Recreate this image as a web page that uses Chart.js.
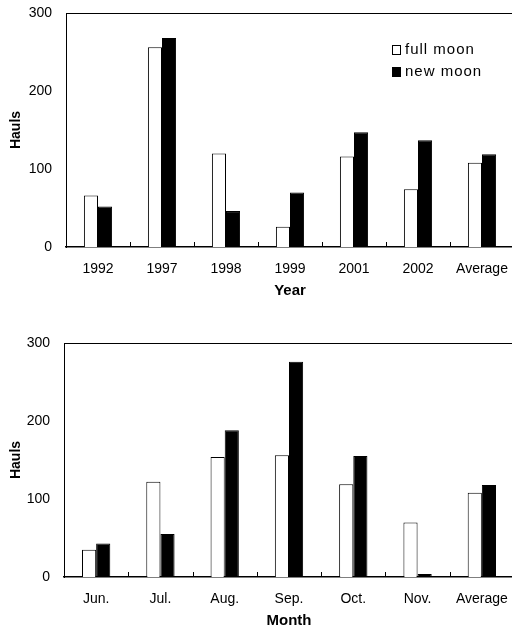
<!DOCTYPE html>
<html>
<head>
<meta charset="utf-8">
<script src="https://cdn.jsdelivr.net/npm/chart.js@4/dist/chart.umd.min.js"></script>
<style>
  html, body { margin: 0; padding: 0; width: 512px; height: 628px; overflow: hidden; background: #fff; }
  .wrap { position: absolute; width: 520px; height: 300px; }
  #w1 { left: 0; top: 0; }
  #w2 { left: 0; top: 330px; }
</style>
</head>
<body>
<div class="wrap" id="w1"><canvas id="c1" width="520" height="300"></canvas></div>
<div class="wrap" id="w2"><canvas id="c2" width="520" height="300"></canvas></div>
<script>
// ---- data ----
const seriesLabels = ['full moon', 'new moon'];
const yearCategories = ['1992', '1997', '1998', '1999', '2001', '2002', 'Average'];
const yearFullMoon = [66, 256, 120, 26, 116, 74, 108];
const yearNewMoon = [52, 268, 46, 70, 147, 137, 119];
const monthCategories = ['Jun.', 'Jul.', 'Aug.', 'Sep.', 'Oct.', 'Nov.', 'Average'];
const monthFullMoon = [35, 122, 154, 156, 119, 70, 108];
const monthNewMoon = [43, 55, 188, 276, 155, 4, 118];
const yTicks = [0, 100, 200, 300];

const FONT = '"Liberation Sans", Arial, sans-serif';

const framePlugin = {
  id: 'frame',
  afterDatasetsDraw(chart) {
    const ctx = chart.ctx, a = chart.chartArea, xs = chart.scales.x;
    ctx.save();
    ctx.strokeStyle = '#000';
    ctx.lineWidth = 1;
    ctx.beginPath();
    ctx.moveTo(a.left, a.top + 0.5); ctx.lineTo(a.right, a.top + 0.5);
    ctx.stroke();
    // inward tick marks at category boundaries
    const n = chart.data.labels.length;
    ctx.beginPath();
    for (let i = 0; i < n - 1; i++) {
      const x = Math.round((xs.getPixelForValue(i) + xs.getPixelForValue(i + 1)) / 2) + 0.5;
      ctx.moveTo(x, a.bottom); ctx.lineTo(x, a.bottom - 5);
    }
    ctx.stroke();
    ctx.restore();
  }
};

const legendPlugin = {
  id: 'innerLegend',
  afterDraw(chart, args, opts) {
    if (!opts.show) return;
    const ctx = chart.ctx, a = chart.chartArea;
    const x0 = a.right - 122, y0 = a.top + 37;
    ctx.save();
    ctx.font = '15px ' + FONT;
    ctx.textBaseline = 'middle';
    ctx.fillStyle = '#000';
    try { ctx.letterSpacing = '1px'; } catch (e) {}
    chart.data.datasets.forEach((ds, i) => {
      const y = y0 + i * 22;
      ctx.fillStyle = ds.backgroundColor;
      ctx.fillRect(x0, y - 5, 9, 10);
      ctx.strokeStyle = '#000';
      ctx.lineWidth = 1;
      ctx.strokeRect(x0 + 0.5, y - 4.5, 8, 9);
      ctx.fillStyle = '#000';
      ctx.fillText(ds.label, x0 + 13, y);
    });
    ctx.restore();
  }
};

function makeChart(id, cats, full, nw, xTitle, leftW, showLegend) {
  return new Chart(document.getElementById(id), {
    type: 'bar',
    data: {
      labels: cats,
      datasets: [
        { label: seriesLabels[0], data: full, backgroundColor: '#ffffff', borderColor: '#000', borderWidth: 1 },
        { label: seriesLabels[1], data: nw, backgroundColor: '#000000', borderColor: '#000', borderWidth: 1 }
      ]
    },
    options: {
      responsive: false,
      animation: false,
      events: [],
      layout: { padding: { top: 13, right: 6, left: 0, bottom: 0 } },
      datasets: { bar: { categoryPercentage: 0.44, barPercentage: 1.0 } },
      plugins: {
        legend: { display: false },
        tooltip: { enabled: false },
        innerLegend: { show: showLegend }
      },
      scales: {
        x: {
          grid: { display: false, drawTicks: false },
          border: { display: true, color: '#000', width: 1.5 },
          ticks: { color: '#000', font: { family: FONT, size: 14 }, padding: 14, maxRotation: 0, autoSkip: false },
          title: { display: true, text: xTitle, color: '#000', font: { family: FONT, size: 15, weight: 'bold' }, padding: { top: 0, bottom: 0 } },
          afterFit(s) { s.height = 53; s.paddingLeft = 0; s.paddingRight = 0; }
        },
        y: {
          min: 0, max: 300,
          afterBuildTicks(s) { s.ticks = yTicks.map(v => ({ value: v })); },
          grid: { display: false, drawTicks: false },
          border: { display: true, color: '#000', width: 1 },
          ticks: { color: '#000', font: { family: FONT, size: 14 }, padding: 14 },
          title: { display: true, text: 'Hauls', color: '#000', font: { family: FONT, size: 14, weight: 'bold' }, padding: { top: 8, bottom: 0 } },
          afterFit(s) { s.width = leftW; s.paddingTop = 0; s.paddingBottom = 0; }
        }
      }
    },
    plugins: [framePlugin, legendPlugin]
  });
}

makeChart('c1', yearCategories, yearFullMoon, yearNewMoon, 'Year', 66, true);
makeChart('c2', monthCategories, monthFullMoon, monthNewMoon, 'Month', 64, false);
</script>
</body>
</html>
